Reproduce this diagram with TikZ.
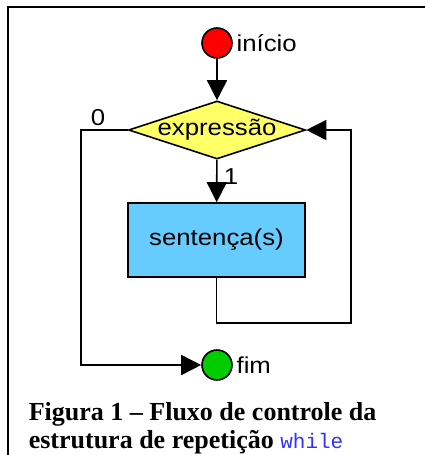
\documentclass[tikz,border=0pt]{standalone}
\usepackage{fontspec}
\setmainfont{Liberation Serif}
\setsansfont{Liberation Sans}
\setmonofont{Liberation Mono}
\newfontfamily\diagfont[FakeStretch=1.12]{Liberation Sans}
\usetikzlibrary{arrows.meta,shapes.geometric}

\definecolor{startred}{RGB}{255,0,0}
\definecolor{endgreen}{RGB}{0,204,0}
\definecolor{condyellow}{RGB}{255,255,102}
\definecolor{stmtblue}{RGB}{102,204,255}
\definecolor{kwblue}{RGB}{51,51,255}

\tikzset{
  terminal/.style={circle, draw, minimum size=30pt, inner sep=0pt},
  decision/.style={diamond, draw, fill=condyellow, shape aspect=3, inner sep=-3pt,
    minimum width=177pt, minimum height=58pt},
  stmtbox/.style={rectangle, draw, fill=stmtblue, minimum width=177pt, minimum height=74pt},
  caption/.style={anchor=base west, inner sep=0pt, font=\rmfamily\bfseries\fontsize{26}{28}\selectfont}
}

\begin{document}
\begin{tikzpicture}[x=1pt, y=-1pt, line width=1.6pt,
    >={Triangle[length=20pt,width=20pt]},
    font=\diagfont\fontsize{23}{27}\selectfont]
		\useasboundingbox (0,0) rectangle (424,455);
		\draw[line width=2pt] (8,456) -- (8,7) -- (425,7);

		\path (217,43) node[terminal, fill=startred] (start) {}
  		(217,130) node[decision] (cond) {expressão}
  		(216.5,240) node[stmtbox] (stmt) {sentença(s)}
  		(217,365) node[terminal, fill=endgreen] (stop) {}
  		(98,118) node (zero) {0}
  		(231,177) node (one) {1};
		\node[anchor=west, inner sep=3pt] (startlbl) at (start.east) {início};
		\node[anchor=west, inner sep=3pt] (stoplbl) at (stop.east) {fim};

		\coordinate (leftbend) at (81,365);
		\coordinate (loopbot) at (351,323);

		\draw[->] (start) -- (cond);
		\draw[->] (cond) -- (stmt);
		\draw[->] (cond.west) -| (leftbend) -- (stop.west);
		\draw[->] (stmt.south) |- (loopbot) |- (cond.east);

		\node[caption] (capA) at (28,420) {Figura 1 – Fluxo de controle da};
		\node[caption] (capB) at (28,448) {estrutura de repetição \textcolor{kwblue}{\mdseries\ttfamily\fontsize{21}{28}\selectfont while}};
	\end{tikzpicture}
\end{document}
